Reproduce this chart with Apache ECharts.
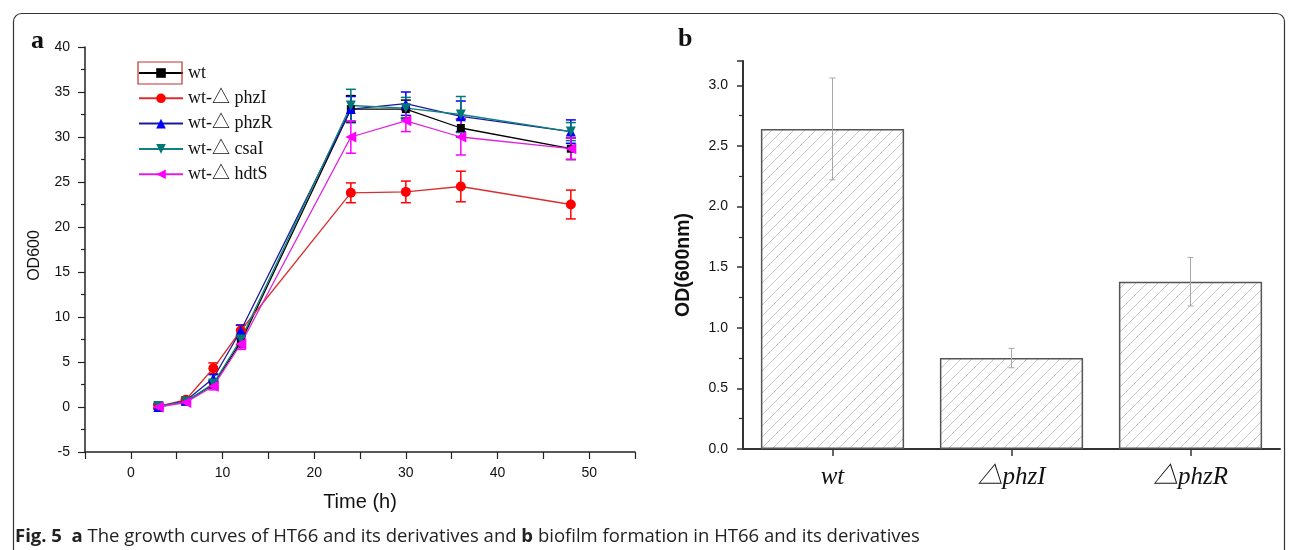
<!DOCTYPE html>
<html>
<head>
<meta charset="utf-8">
<script src="https://cdn.jsdelivr.net/npm/echarts@6/dist/echarts.min.js"></script>
<style>
html,body{margin:0;padding:0;background:#fff;}
#chart{width:1293px;height:550px;}
</style>
</head>
<body>
<div id="chart"></div>
<script>
// ---------- Panel a data ----------
const timeH = [3, 6, 9, 12, 24, 30, 36, 48];
const seriesNames = ['wt', 'wt-△ phzI', 'wt-△ phzR', 'wt-△ csaI', 'wt-△ hdtS'];
const wtVals   = [0.1, 0.6, 2.5, 7.2, 33.1, 33.1, 31.0, 28.7];
const phzIVals = [0.1, 0.8, 4.3, 8.5, 23.8, 23.9, 24.5, 22.5];
const phzRVals = [0.0, 0.7, 3.2, 8.5, 33.1, 33.7, 32.3, 30.6];
const csaIVals = [0.1, 0.6, 2.6, 7.5, 33.5, 33.2, 32.5, 30.6];
const hdtSVals = [0.0, 0.5, 2.3, 7.0, 30.0, 31.8, 30.0, 28.7];
const wtErr    = [0.3, 0.2, 0.4, 0.6, 1.5, 1.0, 1.0, 1.2];
const phzIErr  = [0.2, 0.3, 0.6, 0.6, 1.1, 1.2, 1.7, 1.6];
const phzRErr  = [0.2, 0.2, 0.4, 0.6, 1.4, 1.3, 1.7, 1.3];
const csaIErr  = [0.2, 0.2, 0.4, 0.6, 1.8, 1.2, 2.0, 1.0];
const hdtSErr  = [0.2, 0.2, 0.4, 0.6, 1.8, 1.2, 2.0, 1.2];

// ---------- Panel b data ----------
const strains = ['wt', '△phzI', '△phzR'];
const biofilmOD = [2.64, 0.75, 1.38];
const biofilmErr = [0.42, 0.08, 0.20];

const chart = echarts.init(document.getElementById('chart'));

// hatch pattern
function makeHatch() {
  const s = 11;
  const c = document.createElement('canvas');
  c.width = s; c.height = s;
  const g = c.getContext('2d');
  g.fillStyle = '#ffffff';
  g.fillRect(0, 0, s, s);
  g.strokeStyle = '#c8c8c8';
  g.lineWidth = 1;
  g.beginPath();
  g.moveTo(-1, s + 1); g.lineTo(s + 1, -1);
  g.moveTo(-1, 1); g.lineTo(1, -1);
  g.moveTo(s - 1, s + 1); g.lineTo(s + 1, s - 1);
  g.stroke();
  return c;
}
const hatch = makeHatch();

const colorsLine = ['#000000', '#d83030', '#1a1aa0', '#108080', '#e020e0'];
const colorsSym  = ['#000000', '#ff0000', '#0000ff', '#007878', '#ff00ff'];
const symbols = ['rect', 'circle', 'triangle', 'triangle', 'triangle'];
const symRot = [0, 0, 0, 180, 90];
const symSize = [8, 10, 10, 10, 11];
const vals = [wtVals, phzIVals, phzRVals, csaIVals, hdtSVals];
const errs = [wtErr, phzIErr, phzRErr, csaIErr, hdtSErr];

const series = [];
// error bars (panel a)
vals.forEach((v, i) => {
  series.push({
    type: 'custom',
    xAxisIndex: 0, yAxisIndex: 0,
    silent: true,
    z: 2,
    data: timeH.map((t, k) => [t, v[k] - errs[i][k], v[k] + errs[i][k]]),
    renderItem: function (params, api) {
      const x = api.value(0);
      const lo = api.coord([x, api.value(1)]);
      const hi = api.coord([x, api.value(2)]);
      const w = 5;
      const st = { stroke: colorsSym[i], lineWidth: 1.5 };
      return {
        type: 'group',
        children: [
          { type: 'line', shape: { x1: lo[0], y1: lo[1], x2: hi[0], y2: hi[1] }, style: st },
          { type: 'line', shape: { x1: lo[0] - w, y1: lo[1], x2: lo[0] + w, y2: lo[1] }, style: st },
          { type: 'line', shape: { x1: hi[0] - w, y1: hi[1], x2: hi[0] + w, y2: hi[1] }, style: st }
        ]
      };
    }
  });
});
vals.forEach((v, i) => {
  series.push({
    name: seriesNames[i],
    type: 'line',
    xAxisIndex: 0, yAxisIndex: 0,
    data: timeH.map((t, k) => [t, v[k]]),
    symbol: symbols[i],
    symbolRotate: symRot[i],
    symbolSize: symSize[i],
    showAllSymbol: true,
    lineStyle: { color: colorsLine[i], width: 1.3 },
    itemStyle: { color: colorsSym[i] },
    z: 3,
    animation: false
  });
});
// bars (panel b)
series.push({
  type: 'bar',
  xAxisIndex: 1, yAxisIndex: 1,
  data: biofilmOD,
  barWidth: '80%',
  itemStyle: { color: { image: hatch, repeat: 'repeat' }, borderColor: '#555', borderWidth: 1.5 },
  z: 2
});
series.push({
  type: 'custom',
  xAxisIndex: 1, yAxisIndex: 1,
  silent: true,
  z: 5,
  data: strains.map((s, k) => [k, biofilmOD[k] - biofilmErr[k], biofilmOD[k] + biofilmErr[k]]),
  renderItem: function (params, api) {
    const x = api.value(0);
    const lo = api.coord([x, api.value(1)]);
    const hi = api.coord([x, api.value(2)]);
    const w = 3;
    const st = { stroke: '#a8a8a8', lineWidth: 1 };
    return {
      type: 'group',
      children: [
        { type: 'line', shape: { x1: lo[0], y1: lo[1], x2: hi[0], y2: hi[1] }, style: st },
        { type: 'line', shape: { x1: lo[0] - w, y1: lo[1], x2: lo[0] + w, y2: lo[1] }, style: st },
        { type: 'line', shape: { x1: hi[0] - w, y1: hi[1], x2: hi[0] + w, y2: hi[1] }, style: st }
      ]
    };
  }
});

const axisLineA = { show: true, onZero: false, lineStyle: { color: '#222', width: 1.5 } };
const sans = '"Liberation Sans", Arial, sans-serif';
const serifCJK = '"Liberation Serif", "Noto Sans CJK SC", serif';

const option = {
  animation: false,
  backgroundColor: '#ffffff',
  grid: [
    { left: 85, top: 47, width: 550, height: 405 },
    { left: 743, top: 61, width: 537, height: 388 }
  ],
  xAxis: [
    {
      type: 'value', gridIndex: 0, min: -5, max: 55, interval: 5,
      axisLine: axisLineA,
      axisTick: { show: true, inside: false, length: 7, lineStyle: { color: '#222', width: 1.2 } },
      splitLine: { show: false },
      axisLabel: {
        color: '#111', fontFamily: sans, fontSize: 14, margin: 14,
        formatter: v => (v % 10 === 0 && v >= 0 && v <= 50) ? String(v) : ''
      },
      name: 'Time (h)', nameLocation: 'middle', nameGap: 40,
      nameTextStyle: { color: '#111', fontFamily: sans, fontSize: 20 }
    },
    {
      type: 'category', gridIndex: 1, data: strains,
      axisLine: { show: true, lineStyle: { color: '#333', width: 2 } },
      axisTick: { show: true, alignWithLabel: true, length: 7, lineStyle: { color: '#333', width: 1.5 } },
      axisLabel: { color: '#111', fontFamily: serifCJK, fontStyle: 'italic', fontSize: 25, margin: 16 }
    }
  ],
  yAxis: [
    {
      type: 'value', gridIndex: 0, min: -5, max: 40, interval: 5,
      axisLine: axisLineA,
      axisTick: { show: true, length: 7, lineStyle: { color: '#222', width: 1.2 } },
      minorTick: { show: true, splitNumber: 2, length: 4, lineStyle: { color: '#222', width: 1.2 } },
      splitLine: { show: false },
      axisLabel: { color: '#111', fontFamily: sans, fontSize: 14, margin: 15 },
      name: 'OD600', nameLocation: 'middle', nameGap: 42, nameRotate: 90,
      nameTextStyle: { color: '#111', fontFamily: sans, fontSize: 16, padding: [0, 0, 0, -12] }
    },
    {
      type: 'value', gridIndex: 1, min: 0, max: 3.2, interval: 0.5,
      axisLine: { show: true, lineStyle: { color: '#333', width: 2 } },
      axisTick: { show: true, length: 6, lineStyle: { color: '#333', width: 1.5 } },
      minorTick: { show: true, splitNumber: 2, length: 4, lineStyle: { color: '#333', width: 1.2 } },
      splitLine: { show: false },
      axisLabel: {
        color: '#111', fontFamily: sans, fontSize: 14, margin: 15,
        formatter: v => v > 3.1 ? '' : v.toFixed(1)
      }
    }
  ],
  legend: {
    data: seriesNames,
    orient: 'vertical',
    left: 138, top: 64,
    padding: 0,
    itemWidth: 44, itemHeight: 12,
    itemGap: 7.3,
    textStyle: { color: '#111', fontFamily: serifCJK, fontSize: 18, lineHeight: 16 },
    selectedMode: false
  },
  graphic: [
    { type: 'rect', left: 11, top: 11, shape: { x: 0, y: 0, width: 1271, height: 580, r: 8 }, style: { fill: 'none', stroke: '#333', lineWidth: 1.2 }, silent: true },
    { type: 'rect', shape: { x: 138, y: 62, width: 44, height: 22 }, style: { fill: 'none', stroke: '#c03030', lineWidth: 1.2 }, silent: true, z: 10 },
    { type: 'text', left: 31, top: 28, style: { text: 'a', font: 'bold 26px "Liberation Serif", serif', fill: '#111' } },
    { type: 'text', left: 678, top: 26, style: { text: 'b', font: 'bold 26px "Liberation Serif", serif', fill: '#111' } },
    {
      type: 'text', x: 684, y: 265, rotation: Math.PI / 2,
      style: { text: 'OD(600nm)', font: 'bold 19.5px "Liberation Sans", Arial, sans-serif', fill: '#111', align: 'center', verticalAlign: 'middle' }
    },
    {
      type: 'text', left: 15, top: 527,
      style: {
        text: '{b|Fig. 5}  {b|a} The growth curves of HT66 and its derivatives and {b|b} biofilm formation in HT66 and its derivatives',
        font: '18.5px "Open Sans", sans-serif', fill: '#222',
        rich: { b: { fontWeight: 'bold', fontFamily: 'Open Sans', fontSize: 18.5, fill: '#222' } }
      }
    }
  ],
  series: series
};
chart.setOption(option);
</script>
</body>
</html>
